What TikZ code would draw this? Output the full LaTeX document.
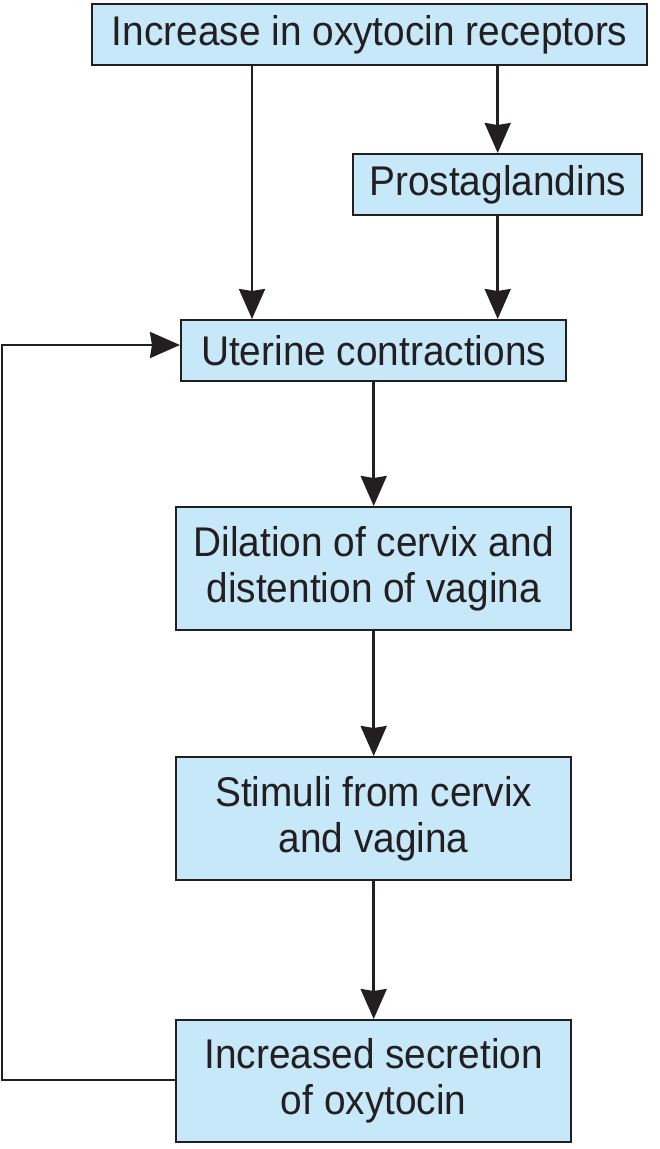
\documentclass[tikz,border=0pt]{standalone}
\usepackage{fontspec}
\setmainfont[FakeStretch=0.935]{Liberation Sans}
\usetikzlibrary{arrows.meta}
\definecolor{boxfill}{HTML}{C7E8F9}
\definecolor{ink}{HTML}{231F20}
\begin{document}
\begin{tikzpicture}[x=1pt,y=-1pt,
  box/.style={draw=ink,line width=2.4pt,fill=boxfill,text=ink,inner sep=0pt,
    font=\fontsize{41.5}{46}\selectfont,align=center,anchor=north west},
  conn/.style={draw=ink,line width=2.6pt,-{Stealth[length=30pt,width=26pt,inset=2pt]}}]
\useasboundingbox (0,0) rectangle (660,1149);
\node[box,minimum width=555pt,minimum height=61pt] (rec) at (91,3) {Increase in oxytocin receptors};
\node[box,minimum width=289pt,minimum height=61pt] (pro) at (352,153) {Prostaglandins};
\node[box,minimum width=385pt,minimum height=61pt] (ute) at (180,319) {Uterine contractions};
\node[box,minimum width=395pt,minimum height=123pt] (dil) at (175,506) {Dilation of cervix and\\distention of vagina};
\node[box,minimum width=395pt,minimum height=123pt] (sti) at (175,756) {Stimuli from cervix\\and vagina};
\node[box,minimum width=395pt,minimum height=122pt] (sec) at (175,1019) {Increased secretion\\of oxytocin};
\coordinate (c1) at (2,1080);
\coordinate (c2) at (2,345);
\draw[conn] (rec.south -| 252,0) -- (ute.north -| 252,0);
\draw[conn] (rec.south -| pro.north) -- (pro.north);
\draw[conn] (pro.south) -- (ute.north -| pro.south);
\draw[conn] (ute.south) -- (dil.north);
\draw[conn] (dil.south) -- (sti.north);
\draw[conn] (sti.south) -- (sec.north);
\draw[conn] (sec.west |- c1) -- (c1) -- (c2) -- (ute.west |- c2);
\end{tikzpicture}
\end{document}
